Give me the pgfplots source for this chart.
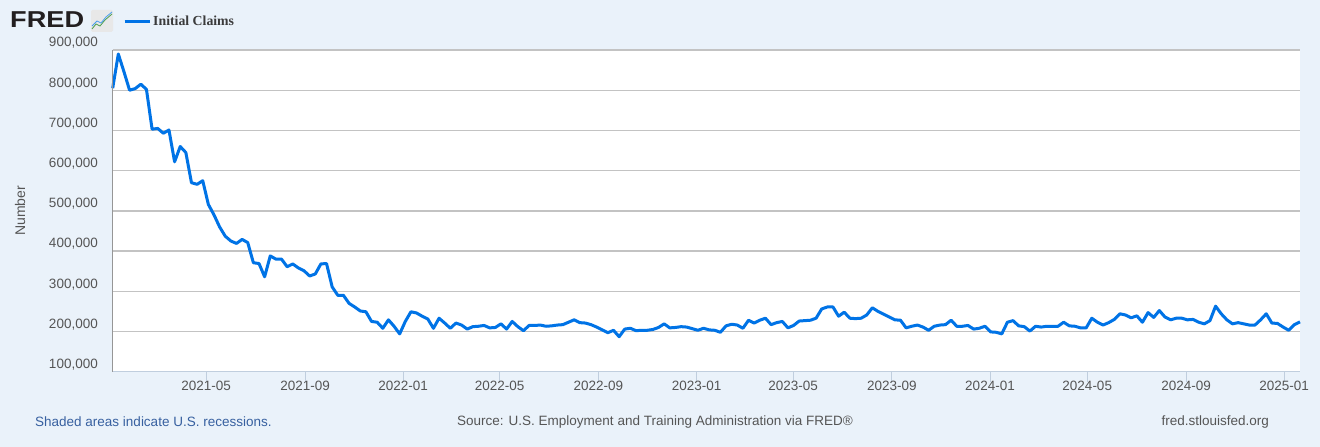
\documentclass[border=0pt]{standalone}
\usepackage{pgfplots}
\pgfplotsset{compat=1.18}
\usepackage{fontspec}
\setmainfont{Liberation Sans}
\newfontfamily\legendfont{Liberation Serif}

\definecolor{bgc}{RGB}{234,242,250}
\definecolor{linec}{RGB}{0,115,230}
\definecolor{gridc}{RGB}{195,195,195}
\definecolor{ticktext}{RGB}{85,85,85}
\definecolor{leftc}{RGB}{150,150,150}
\definecolor{botc}{RGB}{192,206,222}
\definecolor{footblue}{RGB}{55,96,160}
\definecolor{logoc}{RGB}{35,31,32}

\begin{document}
\begin{tikzpicture}[x=1pt,y=1pt]
  \useasboundingbox[fill=bgc] (0,0) rectangle (1320,447);

  % logo and footer
  \node[anchor=west, inner sep=0pt, text=logoc, xscale=1.18,
        font=\fontsize{23}{23}\selectfont\bfseries] at (10,427) {FRED};
  \fill[gray!18, rounded corners=1.5pt] (91,415) rectangle (113,437);
  \draw[green!45!black!70, line width=0.8pt] (92,418) -- (96,423) -- (100,421) -- (105,427) -- (112,433);
  \draw[linec!70, line width=0.8pt] (92,421) -- (97,426) -- (101,424) -- (106,430) -- (112,435);

  \node[anchor=west, inner sep=0pt, text=footblue, font=\fontsize{13.5}{16}\selectfont] at (35,25) {Shaded areas indicate U.S. recessions.};
  \node[anchor=center, inner sep=0pt, text=ticktext, font=\fontsize{13.5}{16}\selectfont] at (655,25) {Source: U.S. Employment and Training Administration via FRED®};
  \node[anchor=east, inner sep=0pt, text=ticktext, font=\fontsize{13.5}{16}\selectfont] at (1269,25) {fred.stlouisfed.org};

  \begin{axis}[
      at={(112.7pt,75.3pt)}, anchor=south west,
      scale only axis,
      width=1187.3pt, height=321.7pt,
      xmin=0, xmax=211,
      ymin=100000, ymax=900000,
      axis background/.style={fill=white},
      axis line style={draw=none},
      ymajorgrids=true,
      major grid style={color=gridc, line width=1.4pt},
      ytick={100000,200000,300000,400000,500000,600000,700000,800000,900000},
      scaled y ticks=false,
      /pgf/number format/.cd, fixed, precision=0, 1000 sep={,}, assume math mode=true,
      /pgfplots/.cd,
      xtick={16.62,34.19,51.62,68.76,86.33,103.76,120.91,138.48,155.91,173.19,190.76,208.19},
      xticklabels={2021-05,2021-09,2022-01,2022-05,2022-09,2023-01,2023-05,2023-09,2024-01,2024-05,2024-09,2025-01},
      xtick pos=bottom,
      tick align=outside,
      major tick length=10pt,
      xtick style={draw=botc, line width=1pt},
      ytick style={draw=none},
      tick label style={text=ticktext, font=\fontsize{13.5}{16}\selectfont},
      yticklabel style={anchor=east, inner sep=0pt, xshift=-4.7pt, yshift=7pt},
      xticklabel style={anchor=north, inner sep=0pt, yshift=1pt},
      ylabel={Number},
      ylabel style={at={(axis description cs:-0.078,0.5)}, anchor=center,
                    text=ticktext, font=\fontsize{14}{16}\selectfont},
      legend style={at={(axis description cs:0.0087,1.088)}, anchor=west,
                    draw=none, fill=none, inner sep=0pt,
                    text=ticktext!70!black,
                    font=\legendfont\bfseries\fontsize{13.8}{16}\selectfont},
      legend image code/.code={\draw[#1, line width=3pt] (0pt,0pt) -- (25pt,0pt);},
      clip=false,
    ]
    \addplot[color=linec, line width=3pt, line join=round] table {
      0 805000
      1 890000
      2 846000
      3 800000
      4 804000
      5 815000
      6 802000
      7 703000
      8 705000
      9 693000
      10 701000
      11 622000
      12 660000
      13 645000
      14 570000
      15 566000
      16 575000
      17 516000
      18 490000
      19 460000
      20 437000
      21 425000
      22 419000
      23 429000
      24 421000
      25 371000
      26 369000
      27 336000
      28 388000
      29 380000
      30 380000
      31 361000
      32 368000
      33 358000
      34 351000
      35 338000
      36 343000
      37 368000
      38 369000
      39 311000
      40 290000
      41 290000
      42 270000
      43 261000
      44 251000
      45 249000
      46 225000
      47 223000
      48 208000
      49 229000
      50 213000
      51 194000
      52 225000
      53 249000
      54 246000
      55 238000
      56 231000
      57 208000
      58 233000
      59 221000
      60 208000
      61 221000
      62 216000
      63 206000
      64 212000
      65 213000
      66 215000
      67 209000
      68 210000
      69 219000
      70 206000
      71 225000
      72 212000
      73 202000
      74 215000
      75 215000
      76 216000
      77 213000
      78 214000
      79 216000
      80 217000
      81 223000
      82 229000
      83 222000
      84 221000
      85 217000
      86 211000
      87 204000
      88 197000
      89 203000
      90 187000
      91 206000
      92 208000
      93 202000
      94 203000
      95 203000
      96 205000
      97 210000
      98 219000
      99 209000
      100 210000
      101 212000
      102 211000
      103 207000
      104 203000
      105 208000
      106 204000
      107 203000
      108 198000
      109 214000
      110 218000
      111 216000
      112 208000
      113 228000
      114 221000
      115 228000
      116 233000
      117 217000
      118 222000
      119 225000
      120 209000
      121 215000
      122 226000
      123 227000
      124 228000
      125 233000
      126 256000
      127 261000
      128 261000
      129 238000
      130 248000
      131 233000
      132 232000
      133 233000
      134 241000
      135 259000
      136 250000
      137 243000
      138 236000
      139 229000
      140 228000
      141 209000
      142 213000
      143 216000
      144 211000
      145 203000
      146 213000
      147 216000
      148 217000
      149 228000
      150 213000
      151 213000
      152 215000
      153 206000
      154 208000
      155 213000
      156 199000
      157 198000
      158 194000
      159 223000
      160 227000
      161 214000
      162 212000
      163 201000
      164 213000
      165 211000
      166 213000
      167 213000
      168 213000
      169 223000
      170 214000
      171 213000
      172 209000
      173 209000
      174 233000
      175 223000
      176 216000
      177 222000
      178 230000
      179 244000
      180 241000
      181 234000
      182 239000
      183 223000
      184 247000
      185 235000
      186 252000
      187 236000
      188 229000
      189 233000
      190 233000
      191 229000
      192 230000
      193 223000
      194 219000
      195 227000
      196 263000
      197 244000
      198 229000
      199 219000
      200 222000
      201 219000
      202 216000
      203 216000
      204 229000
      205 244000
      206 221000
      207 220000
      208 211000
      209 203000
      210 217000
      211 224000
    };
    \addlegendentry{Initial Claims}
    \draw[leftc, line width=1pt] (rel axis cs:0,0) -- (rel axis cs:0,1);
    \draw[botc, line width=1.5pt] (rel axis cs:0,0) -- (rel axis cs:1,0);
  \end{axis}
\end{tikzpicture}
\end{document}
